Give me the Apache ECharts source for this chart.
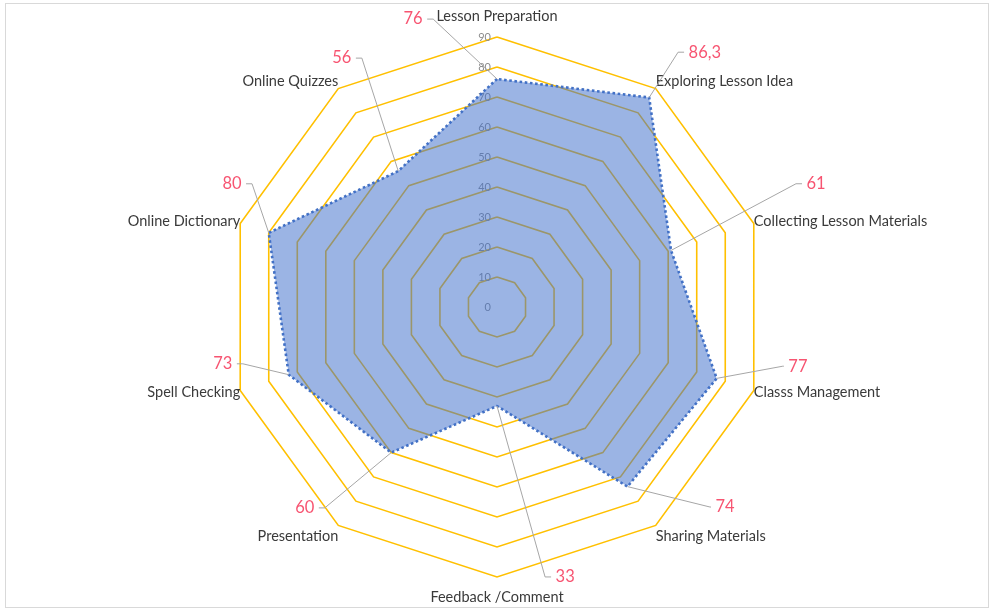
<!DOCTYPE html>
<html>
<head>
<meta charset="utf-8">
<script src="https://cdn.jsdelivr.net/npm/echarts@6/dist/echarts.min.js"></script>
<style>
  html, body { margin: 0; padding: 0; background: #ffffff; }
  #wrap { position: relative; width: 994px; height: 611px; }
  #chart { position: absolute; left: 0; top: 0; width: 994px; height: 611px; }
  #frame { position: absolute; left: 5px; top: 3px; width: 982px; height: 603px;
           border: 1px solid #d9d9d9; pointer-events: none; }
</style>
</head>
<body>
<div id="wrap"><div id="chart"></div><div id="frame"></div></div>
<script>
// ---- data (clockwise from the top) ----
const categories = ['Lesson Preparation', 'Exploring Lesson Idea', 'Collecting Lesson Materials',
  'Classs Management', 'Sharing Materials', 'Feedback /Comment', 'Presentation',
  'Spell Checking', 'Online Dictionary', 'Online Quizzes'];
const values = [76, 86.3, 61, 77, 74, 33, 60, 73, 80, 56];
const axisMin = 0;
const axisMax = 90;
const axisStep = 10;

// ---- layout of the value call-outs (radius in axis units, angle in degrees clockwise from top) ----
const calloutLayout = [
  { r: 98.3, a: 347.5, side: 'left', tick: 6 },
  { r: 104.2, a: 35.4, side: 'right', tick: 6 },
  { r: 107.8, a: 67.6, side: 'right', tick: 6 },
  { r: 97.3, a: 101.7, side: 'right', tick: 1 },
  { r: 97.4, a: 133.2, side: 'right', tick: 1 },
  { r: 91.4, a: 169.9, side: 'right', tick: 6 },
  { r: 88.2, a: 220.6, side: 'left', tick: 6 },
  { r: 86.8, a: 257.4, side: 'left', tick: 6 },
  { r: 91.4, a: 296.7, side: 'left', tick: 6 },
  { r: 94.4, a: 331.5, side: 'left', tick: 6 }
];
// vertical nudge (padding) of each category name: [top, bottom]
const namePadding = [[0, 13], [0, 14], [0, 4], [4, 0], [22, 0], [13, 0], [22, 0], [4, 0], [0, 4], [0, 14]];

const CX = 497, CY = 307, R = 270;
const pxPerUnit = R / (axisMax - axisMin);
const polarMax = 120;
const n = categories.length;
const step = 360 / n;
const fmt = v => String(v).replace('.', ',');

// ECharts radar lays indicators out counter-clockwise; reorder so they run clockwise.
const order = [0];
for (let k = n - 1; k >= 1; k--) order.push(k);
const radarCats = order.map(k => categories[k]);
const radarVals = order.map(k => values[k]);

function tickEnd(lay) {
  const rad = lay.a * Math.PI / 180;
  let x = lay.r * Math.sin(rad), y = lay.r * Math.cos(rad);
  x += (lay.side === 'left' ? -1 : 1) * lay.tick / pxPerUnit;
  let ang = Math.atan2(x, y) * 180 / Math.PI;
  if (ang < 0) ang += 360;
  return [Math.sqrt(x * x + y * y), ang];
}

const leaderSeries = categories.map((c, i) => {
  const lay = calloutLayout[i];
  return {
    type: 'line', coordinateSystem: 'polar', polarIndex: 0,
    symbol: 'none', silent: true, animation: false, clip: false, z: 5,
    lineStyle: { color: '#a6a6a6', width: 1 },
    data: [[values[i], i * step], [lay.r, lay.a], tickEnd(lay)]
  };
});

const labelSeries = {
  type: 'scatter', coordinateSystem: 'polar', polarIndex: 0,
  symbolSize: 1, itemStyle: { color: 'transparent' }, silent: true, animation: false, z: 6,
  data: categories.map((c, i) => {
    const lay = calloutLayout[i];
    return {
      value: tickEnd(lay),
      label: {
        show: true, position: lay.side, distance: 4,
        formatter: () => fmt(values[i]),
        color: '#f5294e', fontSize: 16.5, fontFamily: 'Lato'
      }
    };
  })
};

const indicators = radarCats.map((c, i) => {
  const ind = { name: c, min: axisMin, max: axisMax };
  if (i === 0) {
    ind.axisLabel = { show: true, color: '#8c8c8c', fontSize: 11, fontFamily: 'Lato', margin: 6 };
  }
  return ind;
});

const nameStyle = { color: '#3a3a3a', fontSize: 14.5, fontFamily: 'Lato' };
const nameRich = {};
namePadding.forEach((p, i) => {
  nameRich['n' + i] = Object.assign({ padding: [p[0], 0, p[1], 0] }, nameStyle);
});

const chart = echarts.init(document.getElementById('chart'), null, { renderer: 'canvas' });
chart.setOption({
  backgroundColor: '#ffffff',
  animation: false,
  radar: {
    center: [CX, CY],
    radius: R,
    startAngle: 90,
    shape: 'polygon',
    splitNumber: (axisMax - axisMin) / axisStep,
    indicator: indicators,
    nameGap: 0,
    axisName: Object.assign({}, nameStyle, {
      formatter: function (name) {
        const idx = categories.indexOf(name);
        return '{n' + idx + '|' + name + '}';
      },
      rich: nameRich
    }),
    axisLine: { show: false },
    axisTick: { show: false },
    axisLabel: { show: false },
    splitLine: { lineStyle: { color: '#ffc000', width: 1.6 } },
    splitArea: { show: false }
  },
  polar: { center: [CX, CY], radius: R * polarMax / (axisMax - axisMin) },
  angleAxis: { type: 'value', min: 0, max: 360, startAngle: 90, clockwise: true, show: false },
  radiusAxis: { type: 'value', min: 0, max: polarMax, show: false },
  series: [
    {
      type: 'radar', z: 2,
      symbol: 'none',
      lineStyle: { color: '#4472c4', width: 2.6, type: 'dotted' },
      areaStyle: { color: '#4070cc', opacity: 0.52 },
      data: [{ value: radarVals, name: 'Usage' }]
    }
  ].concat(leaderSeries, [labelSeries])
});
</script>
</body>
</html>
